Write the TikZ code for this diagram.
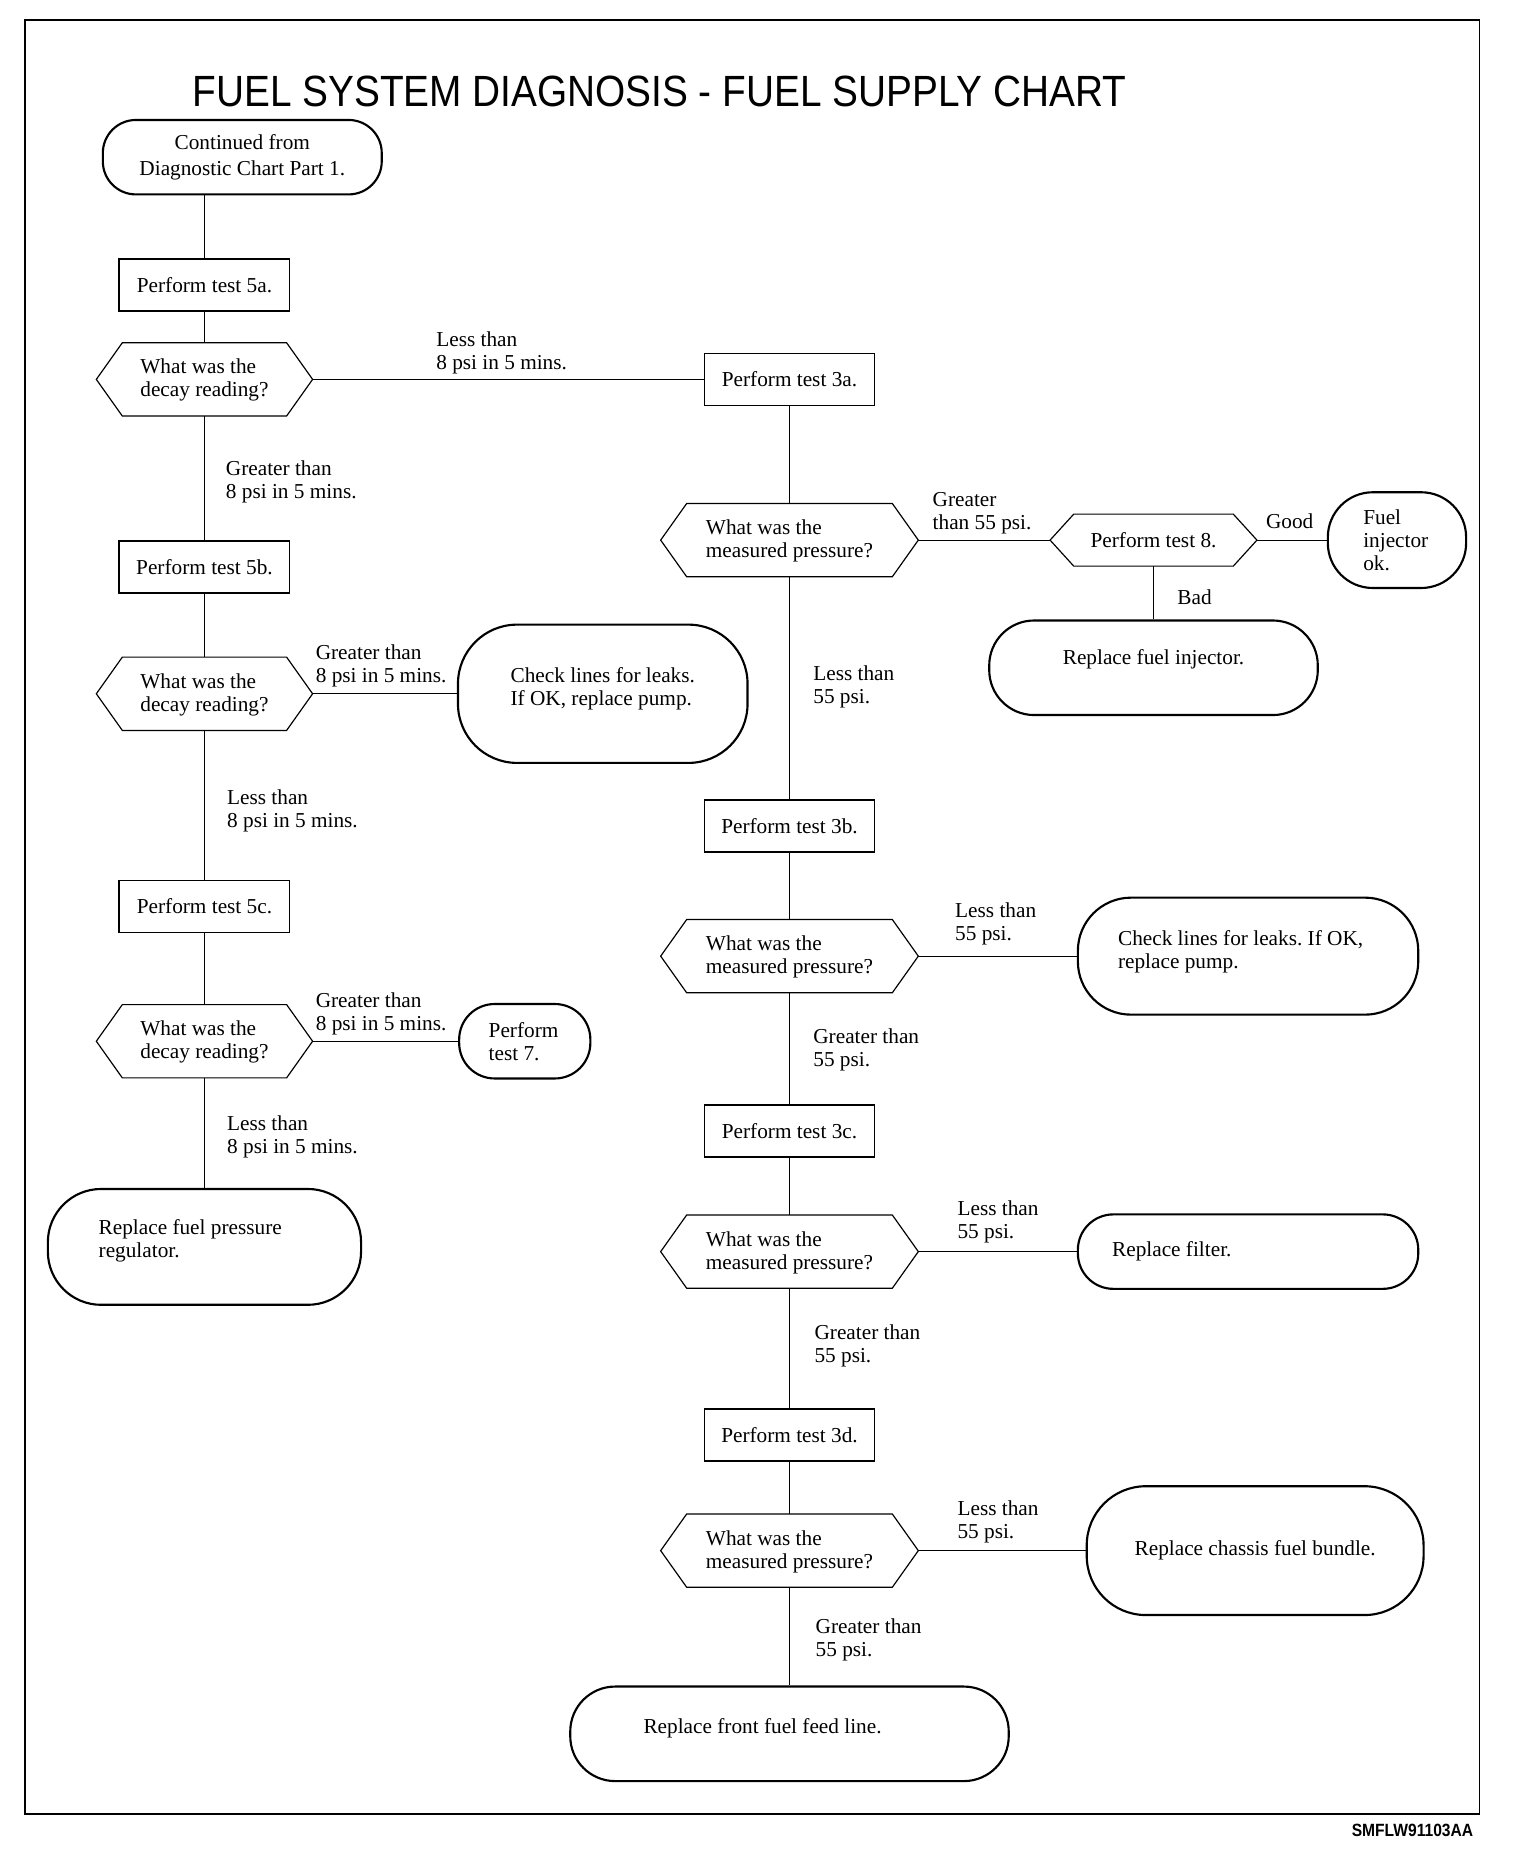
\documentclass[tikz,border=0pt]{standalone}
\usepackage{fontspec}
\setmainfont{Liberation Serif}
\newfontfamily\titlefont{Liberation Sans}
\usepackage{tikz}
\frenchspacing

\begin{document}
\begin{tikzpicture}[x=1pt,y=-1pt,
		txt/.style={font=\fontsize{18}{19.5}\selectfont},
		endbox/.style={draw, line width=1.8pt, rounded corners=#1, txt, align=flush left, inner ysep=0pt},
		testbox/.style={draw, line width=1.5pt, txt, minimum width=144pt, minimum height=44pt},
		askhex/.style={txt, align=flush left, minimum height=62pt, inner sep=0pt, outer sep=0pt},
		note/.style={txt, align=flush left, anchor=west, inner sep=0pt},
		link/.style={line width=1pt}]
		\useasboundingbox (0,0) rectangle (1286,1567);
		\draw[line width=1.3pt] (21,17) rectangle (1252,1535);
		\node (title) at (558,77) {\scalebox{0.887}[1]{\titlefont\fontsize{37}{40}\selectfont FUEL SYSTEM DIAGNOSIS - FUEL SUPPLY CHART}};
		\node[anchor=east] (code) at (1250,1549) {\scalebox{0.88}[1]{\titlefont\bfseries\fontsize{15}{16}\selectfont SMFLW91103AA}};

		% left column
		\node[endbox=28pt, align=center, minimum width=236pt, minimum height=63pt, font=\fontsize{18}{22}\selectfont] (cont) at (205,133) {Continued from\\Diagnostic Chart Part 1.};
		\node[testbox] (t5a) at (173,241) {Perform test 5a.};
		\node[askhex, minimum width=183pt] (d1) at (173,321) {What was the\\decay reading?\\[-17pt]\mbox{}};
		\node[testbox] (t5b) at (173,480) {Perform test 5b.};
		\node[askhex, minimum width=183pt] (d2) at (173,587) {What was the\\decay reading?\\[-17pt]\mbox{}};
		\node[testbox] (t5c) at (173,767) {Perform test 5c.};
		\node[askhex, minimum width=183pt] (d3) at (173,881) {What was the\\decay reading?\\[-17pt]\mbox{}};
		\node[endbox=45pt, minimum height=98pt, inner xsep=43pt, text width=179pt] (regul) at (173,1055) {Replace fuel pressure\\regulator.\\[-5pt]\mbox{}};
		\node[endbox=50pt, minimum width=245pt, minimum height=117pt] (leak1) at (510,587) {Check lines for leaks.\\If OK, replace pump.\\[-7pt]\mbox{}};
		\node[endbox=30pt, minimum height=63pt, inner xsep=25pt, text width=61pt] (test7) at (444,881) {Perform\\test 7.};

		% right column
		\node[testbox] (t3a) at (668,321) {Perform test 3a.};
		\node[askhex, minimum width=218pt] (m1) at (668,457) {What was the\\measured pressure?\\[-17pt]\mbox{}};
		\node[askhex, minimum width=175pt, minimum height=44pt] (t8) at (976,457) {Perform test 8.};
		\node[endbox=38pt, minimum height=81pt, inner xsep=30pt, text width=57pt] (fuelok) at (1182,457) {Fuel\\injector\\ok.};
		\node[endbox=38pt, minimum width=278pt, minimum height=80pt] (injector) at (976,565) {Replace fuel injector.\\[-2pt]\mbox{}};
		\node[testbox] (t3b) at (668,699) {Perform test 3b.};
		\node[askhex, minimum width=218pt] (m2) at (668,809) {What was the\\measured pressure?\\[-17pt]\mbox{}};
		\node[endbox=45pt, minimum height=99pt, inner xsep=34pt, text width=220pt] (leak2) at (1056,809) {Check lines for leaks. If OK,\\replace pump.\\[-8pt]\mbox{}};
		\node[testbox] (t3c) at (668,957) {Perform test 3c.};
		\node[askhex, minimum width=218pt] (m3) at (668,1059) {What was the\\measured pressure?\\[-17pt]\mbox{}};
		\node[endbox=30pt, minimum height=63pt, inner xsep=29pt, text width=230pt] (filter) at (1056,1059) {Replace filter.};
		\node[testbox] (t3d) at (668,1214) {Perform test 3d.};
		\node[askhex, minimum width=218pt] (m4) at (668,1312) {What was the\\measured pressure?\\[-17pt]\mbox{}};
		\node[endbox=50pt, minimum width=285pt, minimum height=109pt] (chassis) at (1062,1312) {Replace chassis fuel bundle.};
		\node[endbox=38pt, minimum height=80pt, inner xsep=62pt, text width=247pt] (feed) at (668,1467) {Replace front fuel feed line.\\[-7pt]\mbox{}};

		% hexagon outlines
		\foreach \h/\s in {d1/22, d2/22, d3/22, m1/22, m2/22, m3/22, m4/22, t8/20}
			\draw[line width=1pt, line join=miter] (\h.west) -- ([xshift=\s pt]\h.north west) -- ([xshift=-\s pt]\h.north east)
				-- (\h.east) -- ([xshift=-\s pt]\h.south east) -- ([xshift=\s pt]\h.south west) -- cycle;

		% connectors
		\draw[link] (cont.south -| t5a) -- (t5a);
		\foreach \a/\b in {t5a/d1, d1/t5b, t5b/d2, d2/t5c, t5c/d3, d3/regul, d2/leak1, d3/test7,
			d1/t3a, t3a/m1, m1/t3b, t3b/m2, m2/t3c, t3c/m3, m3/t3d, t3d/m4, m4/feed,
			m1/t8, t8/fuelok, t8/injector, m2/leak2, m3/filter, m4/chassis}
			\draw[link] (\a) -- (\b);

		% branch labels
		\node[note] (l1) at (369,298.5) {Less than\\8 psi in 5 mins.};
		\node[note] (l2) at (191,407.5) {Greater than\\8 psi in 5 mins.};
		\node[note] (l3) at (267,563.5) {Greater than\\8 psi in 5 mins.};
		\node[note] (l4) at (192,686) {Less than\\8 psi in 5 mins.};
		\node[note] (l5) at (267,857.5) {Greater than\\8 psi in 5 mins.};
		\node[note] (l6) at (192,962) {Less than\\8 psi in 5 mins.};
		\node[note] (r1) at (789,434.5) {Greater\\than 55 psi.};
		\node[note] (good) at (1071,441) {Good};
		\node[note] (bad) at (996,505) {Bad};
		\node[note] (r2) at (688,581.5) {Less than\\55 psi.};
		\node[note] (r3) at (808,781.5) {Less than\\55 psi.};
		\node[note] (r4) at (688,888) {Greater than\\55 psi.};
		\node[note] (r5) at (810,1033.5) {Less than\\55 psi.};
		\node[note] (r6) at (689,1139) {Greater than\\55 psi.};
		\node[note] (r7) at (810,1287.5) {Less than\\55 psi.};
		\node[note] (r8) at (690,1387.5) {Greater than\\55 psi.};
	\end{tikzpicture}
\end{document}
